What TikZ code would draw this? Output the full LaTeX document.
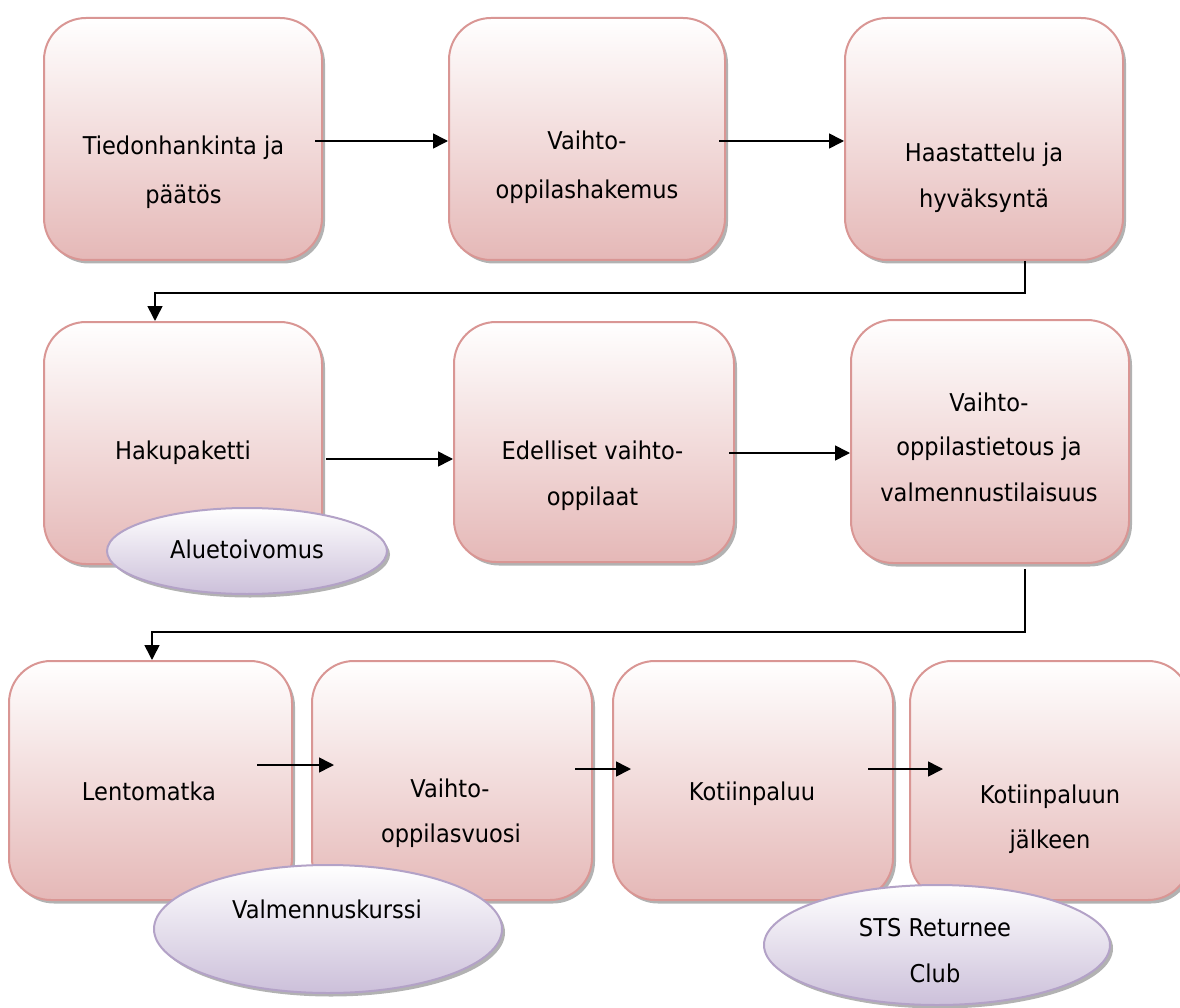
\documentclass[tikz,border=0pt]{standalone}
\usepackage{fontspec}
\setmainfont{DejaVu Sans}[FakeStretch=0.92]
\usetikzlibrary{shadows,arrows.meta,shapes.geometric}

\definecolor{boxedge}{HTML}{D99694}
\definecolor{boxbot}{HTML}{E5B8B7}
\definecolor{boxmid}{HTML}{F4E2E2}
\definecolor{ovedge}{HTML}{B3A2C7}
\definecolor{ovbot}{HTML}{CCC0DA}
\definecolor{ovmid}{HTML}{E8E2F0}

\tikzset{
  stage/.style={draw=boxedge, line width=2pt, rounded corners=42pt,
    top color=white, middle color=boxmid, bottom color=boxbot,
    drop shadow={shadow xshift=3pt, shadow yshift=-3.5pt, fill=gray!60, opacity=1},
    inner sep=0pt},
  extra/.style={ellipse, draw=ovedge, line width=2pt,
    top color=white, middle color=ovmid, bottom color=ovbot,
    drop shadow={shadow xshift=3pt, shadow yshift=-3.5pt, fill=gray!60, opacity=1},
    inner sep=0pt},
  lbl/.style={font=\fontsize{24.5}{30}\selectfont, anchor=base, inner sep=0pt},
  flow/.style={line width=1.6pt, -{Triangle[length=15pt,width=15pt]}},
}

\begin{document}
\begin{tikzpicture}[x=1pt, y=-1pt]
\useasboundingbox (0,0) rectangle (1180,1008);

% process stages
\node[stage, minimum width=278pt, minimum height=242pt] (b1) at (183,139) {};
\node[stage, minimum width=276pt, minimum height=242pt] (b2) at (587,139) {};
\node[stage, minimum width=278pt, minimum height=242pt] (b3) at (984,139) {};
\node[stage, minimum width=278pt, minimum height=242pt] (b4) at (183,443) {};
\node[stage, minimum width=280pt, minimum height=240pt] (b5) at (594,442) {};
\node[stage, minimum width=278pt, minimum height=243pt] (b6) at (990,441.5) {};
\node[stage, minimum width=283pt, minimum height=239pt] (b7) at (150.5,780.5) {};
\node[stage, minimum width=280pt, minimum height=239pt] (b8) at (452,780.5) {};
\node[stage, minimum width=280pt, minimum height=239pt] (b9) at (753,780.5) {};
\node[stage, minimum width=280pt, minimum height=239pt] (b10) at (1050,780.5) {};

% stage texts
\node[lbl] (t1a) at (183.5,155) {Tiedonhankinta ja};
\node[lbl] (t1b) at (183.5,204) {päätös};
\node[lbl] (t2a) at (587,150) {Vaihto-};
\node[lbl] (t2b) at (587,199) {oppilashakemus};
\node[lbl] (t3a) at (984,162) {Haastattelu ja};
\node[lbl] (t3b) at (984,208) {hyväksyntä};
\node[lbl] (t4a) at (183,459) {Hakupaketti};
\node[lbl] (t5a) at (592.5,459) {Edelliset vaihto-};
\node[lbl] (t5b) at (592.5,505) {oppilaat};
\node[lbl] (t6a) at (989,411) {Vaihto-};
\node[lbl] (t6b) at (989,455) {oppilastietous ja};
\node[lbl] (t6c) at (989,501) {valmennustilaisuus};
\node[lbl] (t7a) at (149,800) {Lentomatka};
\node[lbl] (t8a) at (450,797) {Vaihto-};
\node[lbl] (t8b) at (451,842) {oppilasvuosi};
\node[lbl] (t9a) at (752,800) {Kotiinpaluu};
\node[lbl] (t10a) at (1050,803) {Kotiinpaluun};
\node[lbl] (t10b) at (1050,848) {jälkeen};

% flow between stages
\draw[flow] ([shift={(-8pt,-2pt)}]b1.east) -- ([yshift=-2pt]b2.west);
\draw[flow] ([shift={(-7pt,-2pt)}]b2.east) -- ([yshift=-2pt]b3.west);
\draw[flow] ([xshift=41pt]b3.south) -- ++(0,32) -| ([xshift=-28pt]b4.north);
\draw[flow] ([shift={(3pt,-16pt)}]b4.east) -- ([yshift=-17pt]b5.west);
\draw[flow] ([shift={(-6pt,-11pt)}]b5.east) -- ([yshift=-11.5pt]b6.west);
\draw[flow] ([shift={(35pt,-5pt)}]b6.south) -- ++(0,63) -| ([xshift=1.5pt]b7.north);
\draw[flow] ([shift={(-36pt,15.5pt)}]b7.east) -- ([shift={(23pt,15.5pt)}]b8.west);
\draw[flow] ([shift={(-18pt,11.5pt)}]b8.east) -- ([shift={(19pt,11.5pt)}]b9.west);
\draw[flow] ([shift={(-26pt,11.5pt)}]b9.east) -- ([shift={(34pt,11.5pt)}]b10.west);

% side notes
\node[extra, minimum width=280pt, minimum height=86pt] (e1) at (247,551) {};
\node[extra, minimum width=348pt, minimum height=128pt] (e2) at (328,929) {};
\node[extra, minimum width=346pt, minimum height=120pt] (e3) at (937,945) {};
\node[lbl] (n1a) at (247,558) {Aluetoivomus};
\node[lbl] (n2a) at (327,918) {Valmennuskurssi};
\node[lbl] (n3a) at (935,936) {STS Returnee};
\node[lbl] (n3b) at (935,982) {Club};
\end{tikzpicture}
\end{document}
